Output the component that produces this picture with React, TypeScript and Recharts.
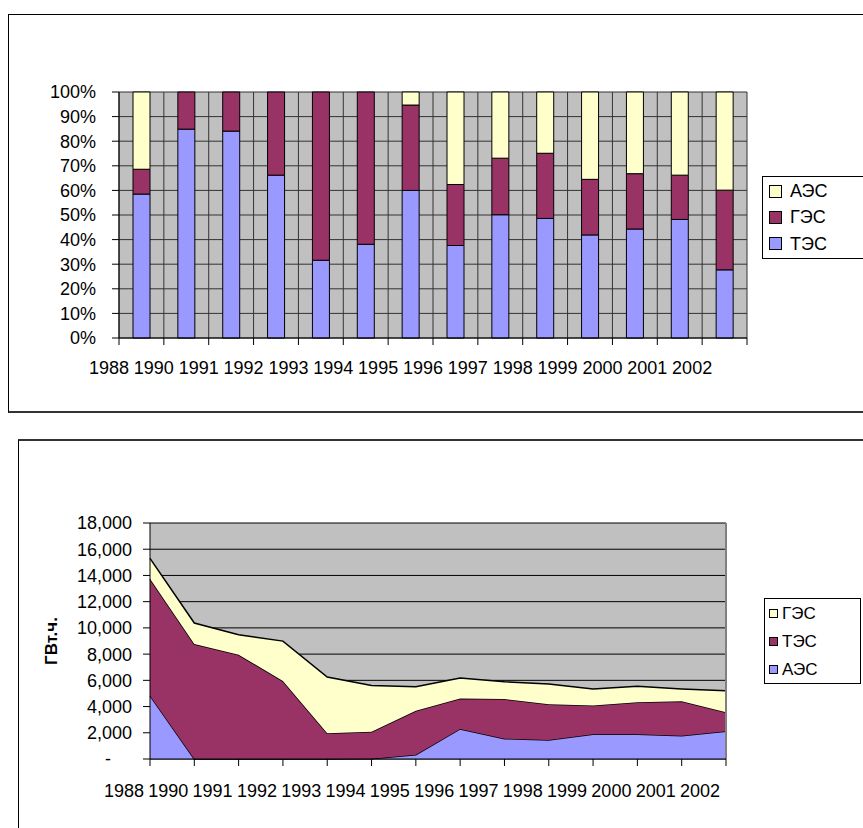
import React from 'react';
import {
  BarChart,
  Bar,
  AreaChart,
  Area,
  XAxis,
  YAxis,
  CartesianGrid,
  Legend,
  ReferenceLine,
} from 'recharts';

// ---------- data ----------
const years = ['1988', '1990', '1991', '1992', '1993', '1994', '1995', '1996', '1997', '1998', '1999', '2000', '2001', '2002'];

// top chart: structure of generation, % (stacked to 100%)
const shareTES = [58.5, 84.9, 84.1, 66.2, 31.6, 38.1, 60.0, 37.6, 50.1, 48.6, 41.9, 44.3, 48.2, 27.7];
const shareGES = [10.1, 15.1, 15.9, 33.8, 68.4, 61.9, 34.7, 24.8, 23.0, 26.5, 22.6, 22.5, 18.0, 32.4];
const shareAES = [31.4, 0, 0, 0, 0, 0, 5.3, 37.6, 26.9, 24.9, 35.5, 33.2, 33.8, 39.9];

// bottom chart: generation, GWh (stacked areas)
const genAES = [4830, 0, 0, 0, 0, 20, 330, 2290, 1550, 1450, 1880, 1880, 1780, 2110];
const genTES = [8910, 8770, 7950, 5950, 1960, 2060, 3350, 2330, 3020, 2720, 2210, 2440, 2620, 1450];
const genGES = [1560, 1600, 1530, 3040, 4290, 3530, 1830, 1550, 1320, 1550, 1250, 1220, 940, 1650];

const pctTicks = [0, 0.1, 0.2, 0.3, 0.4, 0.5, 0.6, 0.7, 0.8, 0.9, 1];
const gwhTicks = [0, 2000, 4000, 6000, 8000, 10000, 12000, 14000, 16000, 18000];

const topLegendOrder = ['АЭС', 'ГЭС', 'ТЭС'];
const bottomLegendOrder = ['ГЭС', 'ТЭС', 'АЭС'];

// ---------- styles ----------
const BLUE = '#9999FF';
const MAROON = '#993366';
const YELLOW = '#FFFFCC';
const topColors: Record<string, string> = { 'ТЭС': BLUE, 'ГЭС': MAROON, 'АЭС': YELLOW };
const bottomColors: Record<string, string> = { 'АЭС': BLUE, 'ТЭС': MAROON, 'ГЭС': YELLOW };

const FONT = '"Liberation Sans", Arial, Helvetica, sans-serif';
const TOP_PLOT_W = 628;
const FS = 18;

const topData = years.map((y, i) => ({ year: y, tes: shareTES[i], ges: shareGES[i], aes: shareAES[i] }));
const bottomData = years.map((y, i) => ({ year: y, aes: genAES[i], tes: genTES[i], ges: genGES[i] }));

const TopXTick = (props: any) => {
  const { x, y, payload, index } = props;
  const bw = TOP_PLOT_W / years.length;
  const axisY = y - 23;
  const left = x - bw / 2;
  return (
    <g>
      <line x1={left} x2={left} y1={axisY} y2={axisY + 7} stroke="#000" />
      {index === years.length - 1 && (
        <line x1={x + bw / 2} x2={x + bw / 2} y1={axisY} y2={axisY + 7} stroke="#000" />
      )}
      <text x={left - 10} y={y} dy="0.71em" textAnchor="middle" fontSize={FS} fill="#000">
        {payload.value}
      </text>
    </g>
  );
};

const BottomXTick = (props: any) => {
  const { x, y, payload } = props;
  return (
    <text x={x - 26} y={y} dy="0.71em" textAnchor="middle" fontSize={FS} fill="#000">
      {payload.value}
    </text>
  );
};

const BottomYTick = (props: any) => {
  const { x, y, payload } = props;
  const v = payload.value as number;
  const label = v === 0 ? '-' : v.toLocaleString('en-US');
  return (
    <text x={v === 0 ? x - 21 : x} y={y} dy="0.355em" textAnchor="end" fontSize={FS} fill="#000">
      {label}
    </text>
  );
};

const YTitle = (props: any) => {
  const vb = props.viewBox || { y: 103, height: 236 };
  const cy = vb.y + vb.height / 2;
  return (
    <text
      transform={`translate(51, ${cy}) rotate(-90)`}
      textAnchor="middle"
      dominantBaseline="central"
      fontSize={17}
      fontWeight="bold"
      fill="#000"
    >
      ГВт.ч.
    </text>
  );
};

const makeLegend = (order: string[], colors: Record<string, string>, cfg: any) => (props: any) => {
  const payload = (props.payload || []) as any[];
  const items = order.filter((n) => payload.some((p) => p.value === n));
  return (
    <div
      style={{
        position: 'relative',
        width: cfg.w,
        height: cfg.h,
        border: '1px solid #000',
        boxSizing: 'border-box',
        background: '#fff',
        fontFamily: FONT,
      }}
    >
      {items.map((name, i) => (
        <div
          key={name}
          style={{
            position: 'absolute',
            left: cfg.swLeft,
            top: cfg.firstRow + cfg.rowGap * i - 10,
            height: 20,
            display: 'flex',
            alignItems: 'center',
            whiteSpace: 'nowrap',
          }}
        >
          <span
            style={{
              display: 'inline-block',
              width: cfg.sw,
              height: cfg.sw,
              border: '1px solid #000',
              boxSizing: 'border-box',
              background: colors[name],
            }}
          />
          <span style={{ marginLeft: cfg.textGap, fontSize: cfg.fs, color: '#000', lineHeight: '20px' }}>{name}</span>
        </div>
      ))}
    </div>
  );
};

const TopLegend = makeLegend(topLegendOrder, topColors, {
  w: 110, h: 83, swLeft: 6, sw: 13, textGap: 8, fs: 18, firstRow: 14, rowGap: 26.3,
});
const BottomLegend = makeLegend(bottomLegendOrder, bottomColors, {
  w: 97, h: 86, swLeft: 4, sw: 9, textGap: 4, fs: 17, firstRow: 14.5, rowGap: 28,
});

export default function App() {
  return (
    <div
      style={{
        position: 'fixed',
        left: 0,
        top: 0,
        width: 863,
        height: 828,
        overflow: 'hidden',
        background: '#fff',
        fontFamily: FONT,
      }}
    >
      {/* frames */}
      <div
        style={{
          position: 'absolute',
          left: 8,
          top: 14,
          width: 900,
          height: 399,
          borderTop: '1px solid #000',
          borderLeft: '1px solid #000',
          borderBottom: '2px solid #333',
          boxSizing: 'border-box',
        }}
      />
      <div
        style={{
          position: 'absolute',
          left: 18,
          top: 439,
          width: 900,
          height: 500,
          borderTop: '2px solid #333',
          borderLeft: '1px solid #000',
          boxSizing: 'border-box',
        }}
      />

      {/* top: 100% stacked bars */}
      <div style={{ position: 'absolute', left: 0, top: 0 }}>
        <BarChart
          width={863}
          height={420}
          data={topData}
          stackOffset="expand"
          barSize={17}
          margin={{ top: 92, right: 116, bottom: 42, left: 59 }}
        >
          <CartesianGrid
            fill="#C0C0C0"
            fillOpacity={1}
            stroke="#333"
            verticalCoordinatesGenerator={(p: any) => {
              const o = p.offset || {};
              const left = o.left ?? 119;
              const w = o.width ?? TOP_PLOT_W;
              return years.map((_, i) => left + (i * w) / years.length).concat([left + w]);
            }}
          />
          <XAxis
            dataKey="year"
            interval={0}
            height={40}
            tickLine={false}
            tickSize={0}
            tickMargin={23}
            axisLine={{ stroke: '#000' }}
            tick={<TopXTick />}
          />
          <YAxis
            width={60}
            domain={[0, 1]}
            ticks={pctTicks}
            interval={0}
            tickFormatter={(v: number) => `${Math.round(v * 100)}%`}
            tickSize={7}
            tickMargin={16}
            axisLine={{ stroke: '#000' }}
            tickLine={{ stroke: '#000' }}
            tick={{ fontSize: FS, fill: '#000' }}
          />
          <Legend
            layout="vertical"
            align="center"
            verticalAlign="middle"
            content={TopLegend}
            wrapperStyle={{ left: 762, top: 176, width: 110, height: 83 }}
          />
          <Bar dataKey="tes" name="ТЭС" stackId="s" fill={BLUE} stroke="#000" strokeWidth={1} isAnimationActive={false} />
          <Bar dataKey="ges" name="ГЭС" stackId="s" fill={MAROON} stroke="#000" strokeWidth={1} isAnimationActive={false} />
          <Bar dataKey="aes" name="АЭС" stackId="s" fill={YELLOW} stroke="#000" strokeWidth={1} isAnimationActive={false} />
        </BarChart>
      </div>

      {/* bottom: stacked areas */}
      <div style={{ position: 'absolute', left: 0, top: 420 }}>
        <AreaChart
          width={863}
          height={408}
          data={bottomData}
          margin={{ top: 103, right: 137, bottom: 29, left: 80 }}
        >
          <CartesianGrid fill="#C0C0C0" fillOpacity={1} stroke="#000" vertical={false} />
          <XAxis
            dataKey="year"
            interval={0}
            height={40}
            tickSize={7}
            tickMargin={18}
            axisLine={{ stroke: '#000' }}
            tickLine={{ stroke: '#000' }}
            tick={<BottomXTick />}
          />
          <YAxis
            width={70}
            domain={[0, 18000]}
            ticks={gwhTicks}
            interval={0}
            tickSize={7}
            tickMargin={11}
            axisLine={{ stroke: '#000' }}
            tickLine={{ stroke: '#000' }}
            tick={<BottomYTick />}
            label={<YTitle />}
          />
          <ReferenceLine x="2002" stroke="#808080" strokeWidth={2} />
          <Legend
            layout="vertical"
            align="center"
            verticalAlign="middle"
            content={BottomLegend}
            wrapperStyle={{ left: 764, top: 178, width: 97, height: 86 }}
          />
          <Area type="linear" dataKey="aes" name="АЭС" stackId="g" fill={BLUE} fillOpacity={1} stroke="#000" strokeWidth={1.5} dot={false} activeDot={false} isAnimationActive={false} />
          <Area type="linear" dataKey="tes" name="ТЭС" stackId="g" fill={MAROON} fillOpacity={1} stroke="#000" strokeWidth={1.5} dot={false} activeDot={false} isAnimationActive={false} />
          <Area type="linear" dataKey="ges" name="ГЭС" stackId="g" fill={YELLOW} fillOpacity={1} stroke="#000" strokeWidth={1.5} dot={false} activeDot={false} isAnimationActive={false} />
        </AreaChart>
      </div>
    </div>
  );
}
